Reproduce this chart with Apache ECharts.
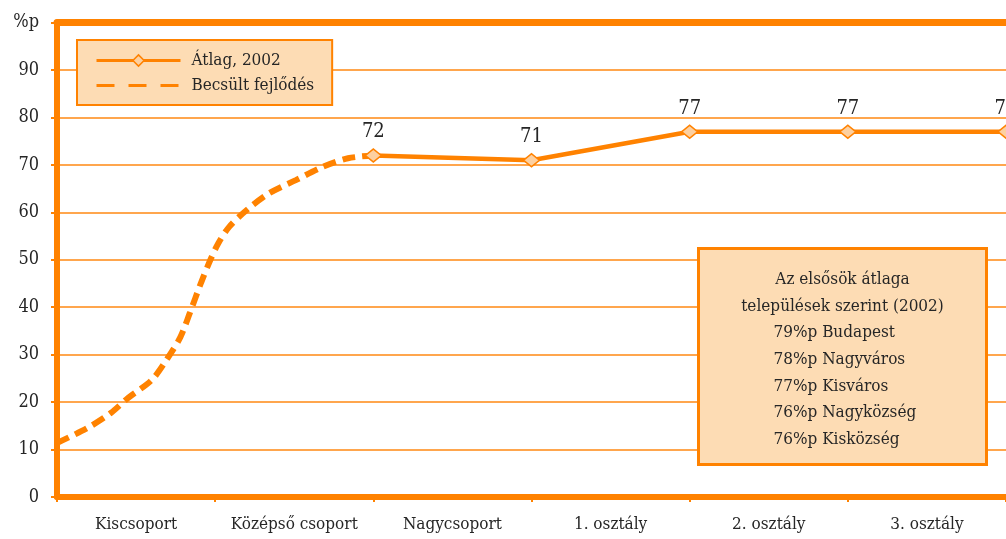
<!DOCTYPE html>
<html>
<head>
<meta charset="utf-8">
<script src="https://cdn.jsdelivr.net/npm/echarts@6/dist/echarts.min.js"></script>
<style>html,body{margin:0;padding:0;background:#fff}#c{width:1006px;height:539px}</style>
</head>
<body>
<div id="c"></div>
<script>
// ---- data ----
const categories = ['Kiscsoport', 'Középső csoport', 'Nagycsoport', '1. osztály', '2. osztály', '3. osztály'];
const yTickLabels = ['0', '10', '20', '30', '40', '50', '60', '70', '80', '90', '%p'];
// measured series (x in category units: 0 = left edge, 2 = end of Középső csoport, ...)
const avgX = [2, 3, 4, 5, 6];
const avgY = [72, 71, 77, 77, 77];
// estimated development (dashed)
const estX = [0, 0.19, 0.34, 0.45, 0.6, 0.7, 0.78, 0.84, 0.91, 0.97, 1.02, 1.09, 1.2, 1.34, 1.51, 1.68, 1.84, 2];
const estY = [11.4, 14.5, 17.7, 20.9, 24.7, 29.3, 33.7, 38.8, 45.1, 50, 53.5, 57, 60.5, 64, 66.8, 69.6, 71.4, 72];
const seriesNames = ['Átlag, 2002', 'Becsült fejlődés'];
const boxTitle = ['Az elsősök átlaga', 'települések szerint (2002)'];
const settlementValues = [79, 78, 77, 76, 76];
const settlementNames = ['Budapest', 'Nagyváros', 'Kisváros', 'Nagyközség', 'Kisközség'];

// ---- styles ----
const ORANGE = '#ff8200';
const GRID = '#ffa64d';
const PEACH = '#fddcb4';
const TXT = '#262626';
const FONT = '"DejaVu Serif Condensed", "DejaVu Serif", serif';

const chart = echarts.init(document.getElementById('c'));

const boxChildren = [{
  type: 'rect',
  z: 100,
  shape: { x: 0, y: 0, width: 288, height: 216 },
  style: { fill: PEACH, stroke: ORANGE, lineWidth: 3 }
}];
boxTitle.forEach((t, i) => {
  boxChildren.push({
    type: 'text', z: 101, x: 144, y: 31 + i * 26.7,
    style: { text: t, fill: TXT, font: '17px ' + FONT, textAlign: 'center', textVerticalAlign: 'middle' }
  });
});
settlementValues.forEach((v, i) => {
  boxChildren.push({
    type: 'text', z: 101, x: 75, y: 31 + (i + 2) * 26.7,
    style: { text: v + '%p ' + settlementNames[i], fill: TXT, font: '17px ' + FONT, textAlign: 'left', textVerticalAlign: 'middle' }
  });
});

chart.setOption({
  animation: false,
  backgroundColor: '#fff',
  grid: { left: 57, right: -17, top: 22.6, bottom: 42, containLabel: false },
  legend: {
    orient: 'vertical',
    left: 77, top: 40,
    backgroundColor: PEACH,
    borderColor: ORANGE,
    borderWidth: 2,
    padding: [12, 18, 11, 18],
    itemWidth: 84,
    itemHeight: 14,
    itemGap: 8,
    textStyle: { fontFamily: FONT, fontSize: 17, color: TXT, padding: [0, 0, 0, 6] },
    data: [
      { name: seriesNames[0], itemStyle: { color: '#fdd0a0', borderColor: ORANGE, borderWidth: 1.5 }, lineStyle: { width: 3, color: ORANGE } },
      { name: seriesNames[1], itemStyle: { opacity: 0 }, lineStyle: { width: 3, type: [18, 14], color: ORANGE, opacity: 1 } }
    ],
    z: 10
  },
  xAxis: [{
    type: 'category',
    data: categories,
    position: 'bottom',
    boundaryGap: true,
    axisLine: { onZero: false, lineStyle: { color: ORANGE, width: 6 } },
    axisTick: { show: true, length: 5, lineStyle: { color: ORANGE, width: 2 } },
    axisLabel: { margin: 19, fontFamily: FONT, fontSize: 17, color: TXT, interval: 0 },
    splitLine: { show: false }
  }, {
    type: 'value',
    min: 0, max: 6,
    position: 'top',
    axisLine: { show: true, onZero: false, lineStyle: { color: ORANGE, width: 7 } },
    axisTick: { show: false },
    axisLabel: { show: false },
    splitLine: { show: false }
  }],
  yAxis: {
    type: 'value',
    min: 0, max: 100, interval: 10,
    axisLine: { show: true, onZero: false, lineStyle: { color: ORANGE, width: 6 } },
    axisTick: { show: true, length: 6, lineStyle: { color: ORANGE, width: 2 } },
    axisLabel: {
      margin: 18, fontFamily: FONT, fontSize: 18, color: TXT,
      formatter: v => yTickLabels[Math.round(v / 10)]
    },
    splitLine: { show: true, lineStyle: { color: GRID, width: 2 } }
  },
  series: [{
    name: seriesNames[0],
    type: 'line',
    xAxisIndex: 1,
    data: avgX.map((x, i) => [x, avgY[i]]),
    symbol: 'diamond',
    symbolSize: [16, 13],
    itemStyle: { color: '#fdd0a0', borderColor: ORANGE, borderWidth: 1.5 },
    lineStyle: { color: ORANGE, width: 4.5 },
    label: { show: true, position: 'top', distance: 6, fontFamily: FONT, fontSize: 20, color: TXT },
    z: 4
  }, {
    name: seriesNames[1],
    type: 'line',
    xAxisIndex: 1,
    data: estX.map((x, i) => [x, estY[i]]),
    smooth: 0.3,
    symbol: 'none',
    itemStyle: { color: ORANGE },
    lineStyle: { color: ORANGE, width: 6, type: [13, 7], cap: 'butt' },
    z: 3
  }],
  graphic: [{
    type: 'group',
    left: 697, top: 247,
    z: 100,
    children: boxChildren
  }]
});
</script>
</body>
</html>
